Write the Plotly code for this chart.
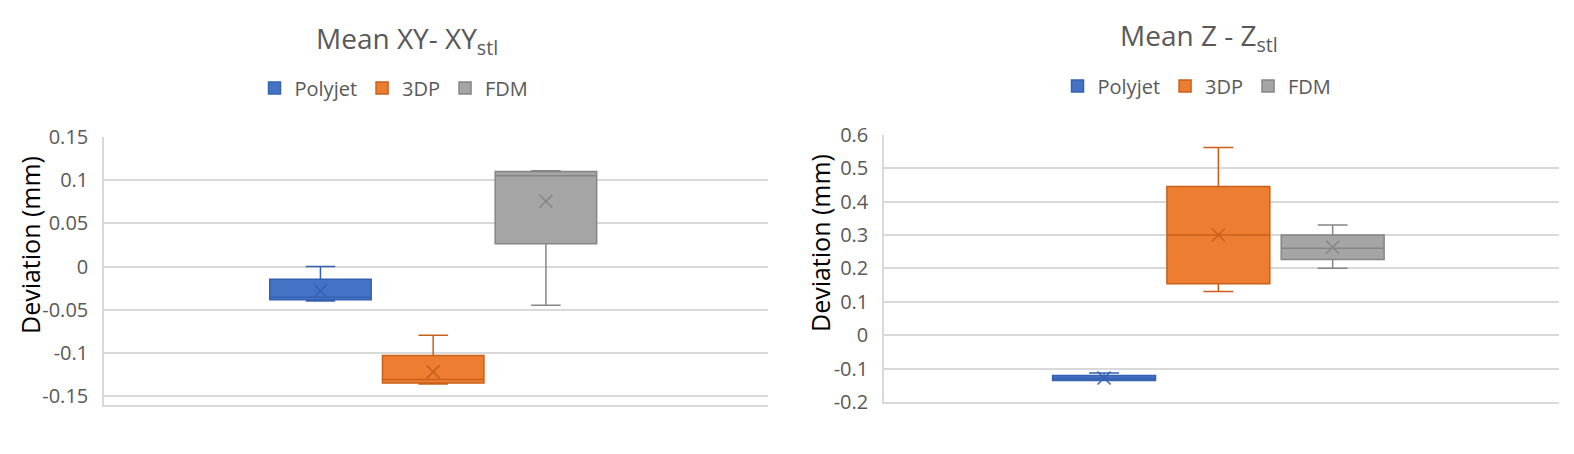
import plotly.graph_objects as go

# series names and colours
names = ['Polyjet', '3DP', 'FDM']
fills = ['#4472C4', '#ED7D31', '#A5A5A5']
edges = ['#3461B0', '#C9601A', '#858585']

# Mean XY - XY_stl (box statistics)
xy_low = [-0.040, -0.136, -0.045]
xy_q1 = [-0.0385, -0.135, 0.0265]
xy_med = [-0.0355, -0.131, 0.105]
xy_q3 = [-0.0147, -0.103, 0.110]
xy_high = [0.0, -0.0795, 0.111]
xy_mean = [-0.028, -0.122, 0.0756]

# Mean Z - Z_stl
z_low = [-0.136, 0.131, 0.200]
z_q1 = [-0.1355, 0.154, 0.2265]
z_med = [-0.130, 0.300, 0.260]
z_q3 = [-0.1206, 0.445, 0.300]
z_high = [-0.1135, 0.562, 0.330]
z_mean = [-0.128, 0.300, 0.263]

xy_ticks = [-0.15, -0.1, -0.05, 0, 0.05, 0.1, 0.15]
xy_ticktext = ['-0.15', '-0.1', '-0.05', '0', '0.05', '0.1', '0.15']
z_ticks = [-0.2, -0.1, 0, 0.1, 0.2, 0.3, 0.4, 0.5, 0.6]
z_ticktext = ['-0.2', '-0.1', '0', '0.1', '0.2', '0.3', '0.4', '0.5', '0.6']

FONT = 'Open Sans'
GREY = '#595959'
W, H = 1574, 454
OFF = 8  # the page body adds an 8px margin


def px(x):
    return (x - OFF) / W


def py(y):
    return 1 - (y - OFF) / H


fig = go.Figure()

panels = [
    ('x', 'y', 'legend', xy_low, xy_q1, xy_med, xy_q3, xy_high, xy_mean),
    ('x2', 'y2', 'legend2', z_low, z_q1, z_med, z_q3, z_high, z_mean),
]
for xa, ya, lg, lo, q1, med, q3, hi, mn in panels:
    for i, n in enumerate(names):
        fig.add_trace(go.Box(
            x=[n], q1=[q1[i]], median=[med[i]], q3=[q3[i]],
            lowerfence=[lo[i]], upperfence=[hi[i]],
            name=n, width=0.9, whiskerwidth=0.29,
            fillcolor=fills[i], line=dict(color=edges[i], width=1.5),
            xaxis=xa, yaxis=ya, legend=lg,
        ))
        fig.add_trace(go.Scatter(
            x=[n], y=[mn[i]], mode='markers', showlegend=False,
            marker=dict(symbol='x-thin', size=13,
                        line=dict(color=edges[i], width=1.5)),
            xaxis=xa, yaxis=ya,
        ))

axis_common = dict(showgrid=False, zeroline=False, showticklabels=False,
                   type='category', showline=True, linecolor='#D9D9D9', linewidth=1.5)
yaxis_common = dict(showgrid=True, gridcolor='#D9D9D9', gridwidth=1.5, zeroline=False,
                    showline=True, linecolor='#D9D9D9', linewidth=1.5,
                    tickfont=dict(family=FONT, size=20, color=GREY),
                    ticklabelstandoff=10)


def note(text, x, y, size, color, angle=0):
    return dict(text=text, x=px(x), y=py(y), xref='paper', yref='paper',
                xanchor='center', yanchor='middle', textangle=angle, showarrow=False,
                font=dict(family=FONT, size=size, color=color))


fig.update_layout(
    width=W, height=H,
    margin=dict(l=0, r=0, t=0, b=0, autoexpand=False),
    paper_bgcolor='white', plot_bgcolor='white',
    boxmode='overlay',
    xaxis=dict(domain=[px(104), px(768)], range=[-1.92, 3.97], anchor='y', **axis_common),
    yaxis=dict(domain=[py(405), py(137)], range=[-0.1604, 0.15],
               tickvals=xy_ticks, ticktext=xy_ticktext, anchor='x', **yaxis_common),
    xaxis2=dict(domain=[px(884), px(1559)], range=[-1.925, 3.98], anchor='y2', **axis_common),
    yaxis2=dict(domain=[py(402), py(134.7)], range=[-0.2, 0.6],
                tickvals=z_ticks, ticktext=z_ticktext, anchor='x2', **yaxis_common),
    legend=dict(orientation='h', x=px(394), y=py(88), xanchor='center', yanchor='middle',
                font=dict(family=FONT, size=20, color=GREY), itemclick=False),
    legend2=dict(orientation='h', x=px(1197), y=py(86), xanchor='center', yanchor='middle',
                 font=dict(family=FONT, size=20, color=GREY), itemclick=False),
    annotations=[
        note('Mean XY- XY<sub>stl</sub>', 407, 40, 28, GREY),
        note('Mean Z - Z<sub>stl</sub>', 1199, 37, 28, GREY),
        note('Deviation (mm)', 30, 245, 25, 'black', -90),
        note('Deviation (mm)', 820, 243, 25, 'black', -90),
    ],
)

fig.write_html('out.html')
